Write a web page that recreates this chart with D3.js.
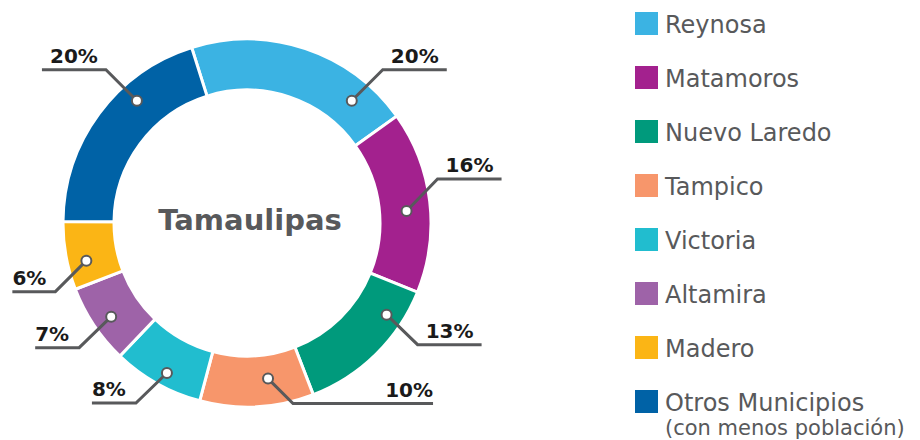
<!DOCTYPE html>
<html>
<head>
<meta charset="utf-8">
<script src="https://cdn.jsdelivr.net/npm/d3@7"></script>
<style>
  body { margin: 0; background: #fff; }
  svg { display: block; font-family: "DejaVu Sans", sans-serif; }
</style>
</head>
<body>
<svg id="chart" width="920" height="440"></svg>
<script>
// data
const municipios = ["Reynosa", "Matamoros", "Nuevo Laredo", "Tampico", "Victoria", "Altamira", "Madero", "Otros Municipios"];
const porcentajes = [20, 16, 13, 10, 8, 7, 6, 20];
const etiquetas = ["20%", "16%", "13%", "10%", "8%", "7%", "6%", "20%"];
const colores = ["#3bb3e3", "#a3218e", "#009a7c", "#f7966b", "#21bdcf", "#9e63a8", "#fbb515", "#0062a6"];

// where each leader starts (angle in degrees, radius) and how it runs
const guias = [
  { ang: 40.6, r: 161, dx: 31, dy: -31, run: 64, align: "middle" },
  { ang: 85.7, r: 160, dx: 31, dy: -32, run: 64, align: "middle" },
  { ang: 123.3, r: 167, dx: 31, dy: 30, run: 64, align: "middle" },
  { ang: 172.3, r: 157, dx: 25, dy: 25, run: 140, align: "end" },
  { ang: 208.1, r: 170, dx: -31, dy: 30, run: 44, align: "end" },
  { ang: 235.4, r: 165, dx: -32, dy: 31, run: 44, align: "end" },
  { ang: 256.8, r: 165, dx: -31, dy: 31, run: 43, align: "end" },
  { ang: 318, r: 164.5, dx: -31, dy: -31, run: 64, align: "middle" }
];

const svg = d3.select("#chart");
const cx = 247, cy = 223;
const rOuter = 184, rInner = 133;
const rad = d => d * Math.PI / 180;

const pie = d3.pie()
  .sort(null)
  .value(d => d)
  .startAngle(rad(-17.5))
  .endAngle(rad(342.5));

const arc = d3.arc().innerRadius(rInner).outerRadius(rOuter);

const g = svg.append("g").attr("transform", `translate(${cx},${cy})`);

g.selectAll("path.slice")
  .data(pie(porcentajes))
  .enter()
  .append("path")
  .attr("class", "slice")
  .attr("d", arc)
  .attr("fill", (d, i) => colores[i])
  .attr("stroke", "#fff")
  .attr("stroke-width", 3);

// leader lines + labels
guias.forEach((gd, i) => {
  const p = d3.pointRadial(rad(gd.ang), gd.r);
  const ex = p[0] + gd.dx, ey = p[1] + gd.dy;
  const dir = gd.dx > 0 ? 1 : -1;
  const fx = ex + dir * gd.run;

  g.append("path")
    .attr("d", d3.line()([p, [ex, ey], [fx, ey]]))
    .attr("fill", "none")
    .attr("stroke", "#58595b")
    .attr("stroke-width", 3);

  g.append("circle")
    .attr("cx", p[0])
    .attr("cy", p[1])
    .attr("r", 5)
    .attr("fill", "#fff")
    .attr("stroke", "#58595b")
    .attr("stroke-width", 2);

  let tx = gd.align === "middle" ? (ex + fx) / 2 : fx;
  let anchor = gd.align;
  if (gd.align === "end" && dir < 0) anchor = "start";

  g.append("text")
    .attr("x", tx)
    .attr("y", ey - 7)
    .attr("text-anchor", anchor)
    .attr("font-size", 20)
    .attr("font-weight", "bold")
    .attr("fill", "#1a1a1a")
    .text(etiquetas[i]);
});

// center title
svg.append("text")
  .attr("x", 250)
  .attr("y", 230)
  .attr("text-anchor", "middle")
  .attr("font-size", 29)
  .attr("font-weight", "bold")
  .attr("fill", "#58595b")
  .text("Tamaulipas");

// legend
const leg = svg.append("g").attr("transform", "translate(635,12)");
const step = 54;
municipios.forEach((m, i) => {
  leg.append("rect")
    .attr("x", 0)
    .attr("y", i * step)
    .attr("width", 23)
    .attr("height", 23)
    .attr("fill", colores[i]);
  leg.append("text")
    .attr("x", 30)
    .attr("y", i * step + 20.5)
    .attr("font-size", 24)
    .attr("fill", "#58595b")
    .text(m);
});
leg.append("text")
  .attr("x", 30)
  .attr("y", 7 * step + 45)
  .attr("font-size", 21)
  .attr("fill", "#58595b")
  .text("(con menos población)");
</script>
</body>
</html>
